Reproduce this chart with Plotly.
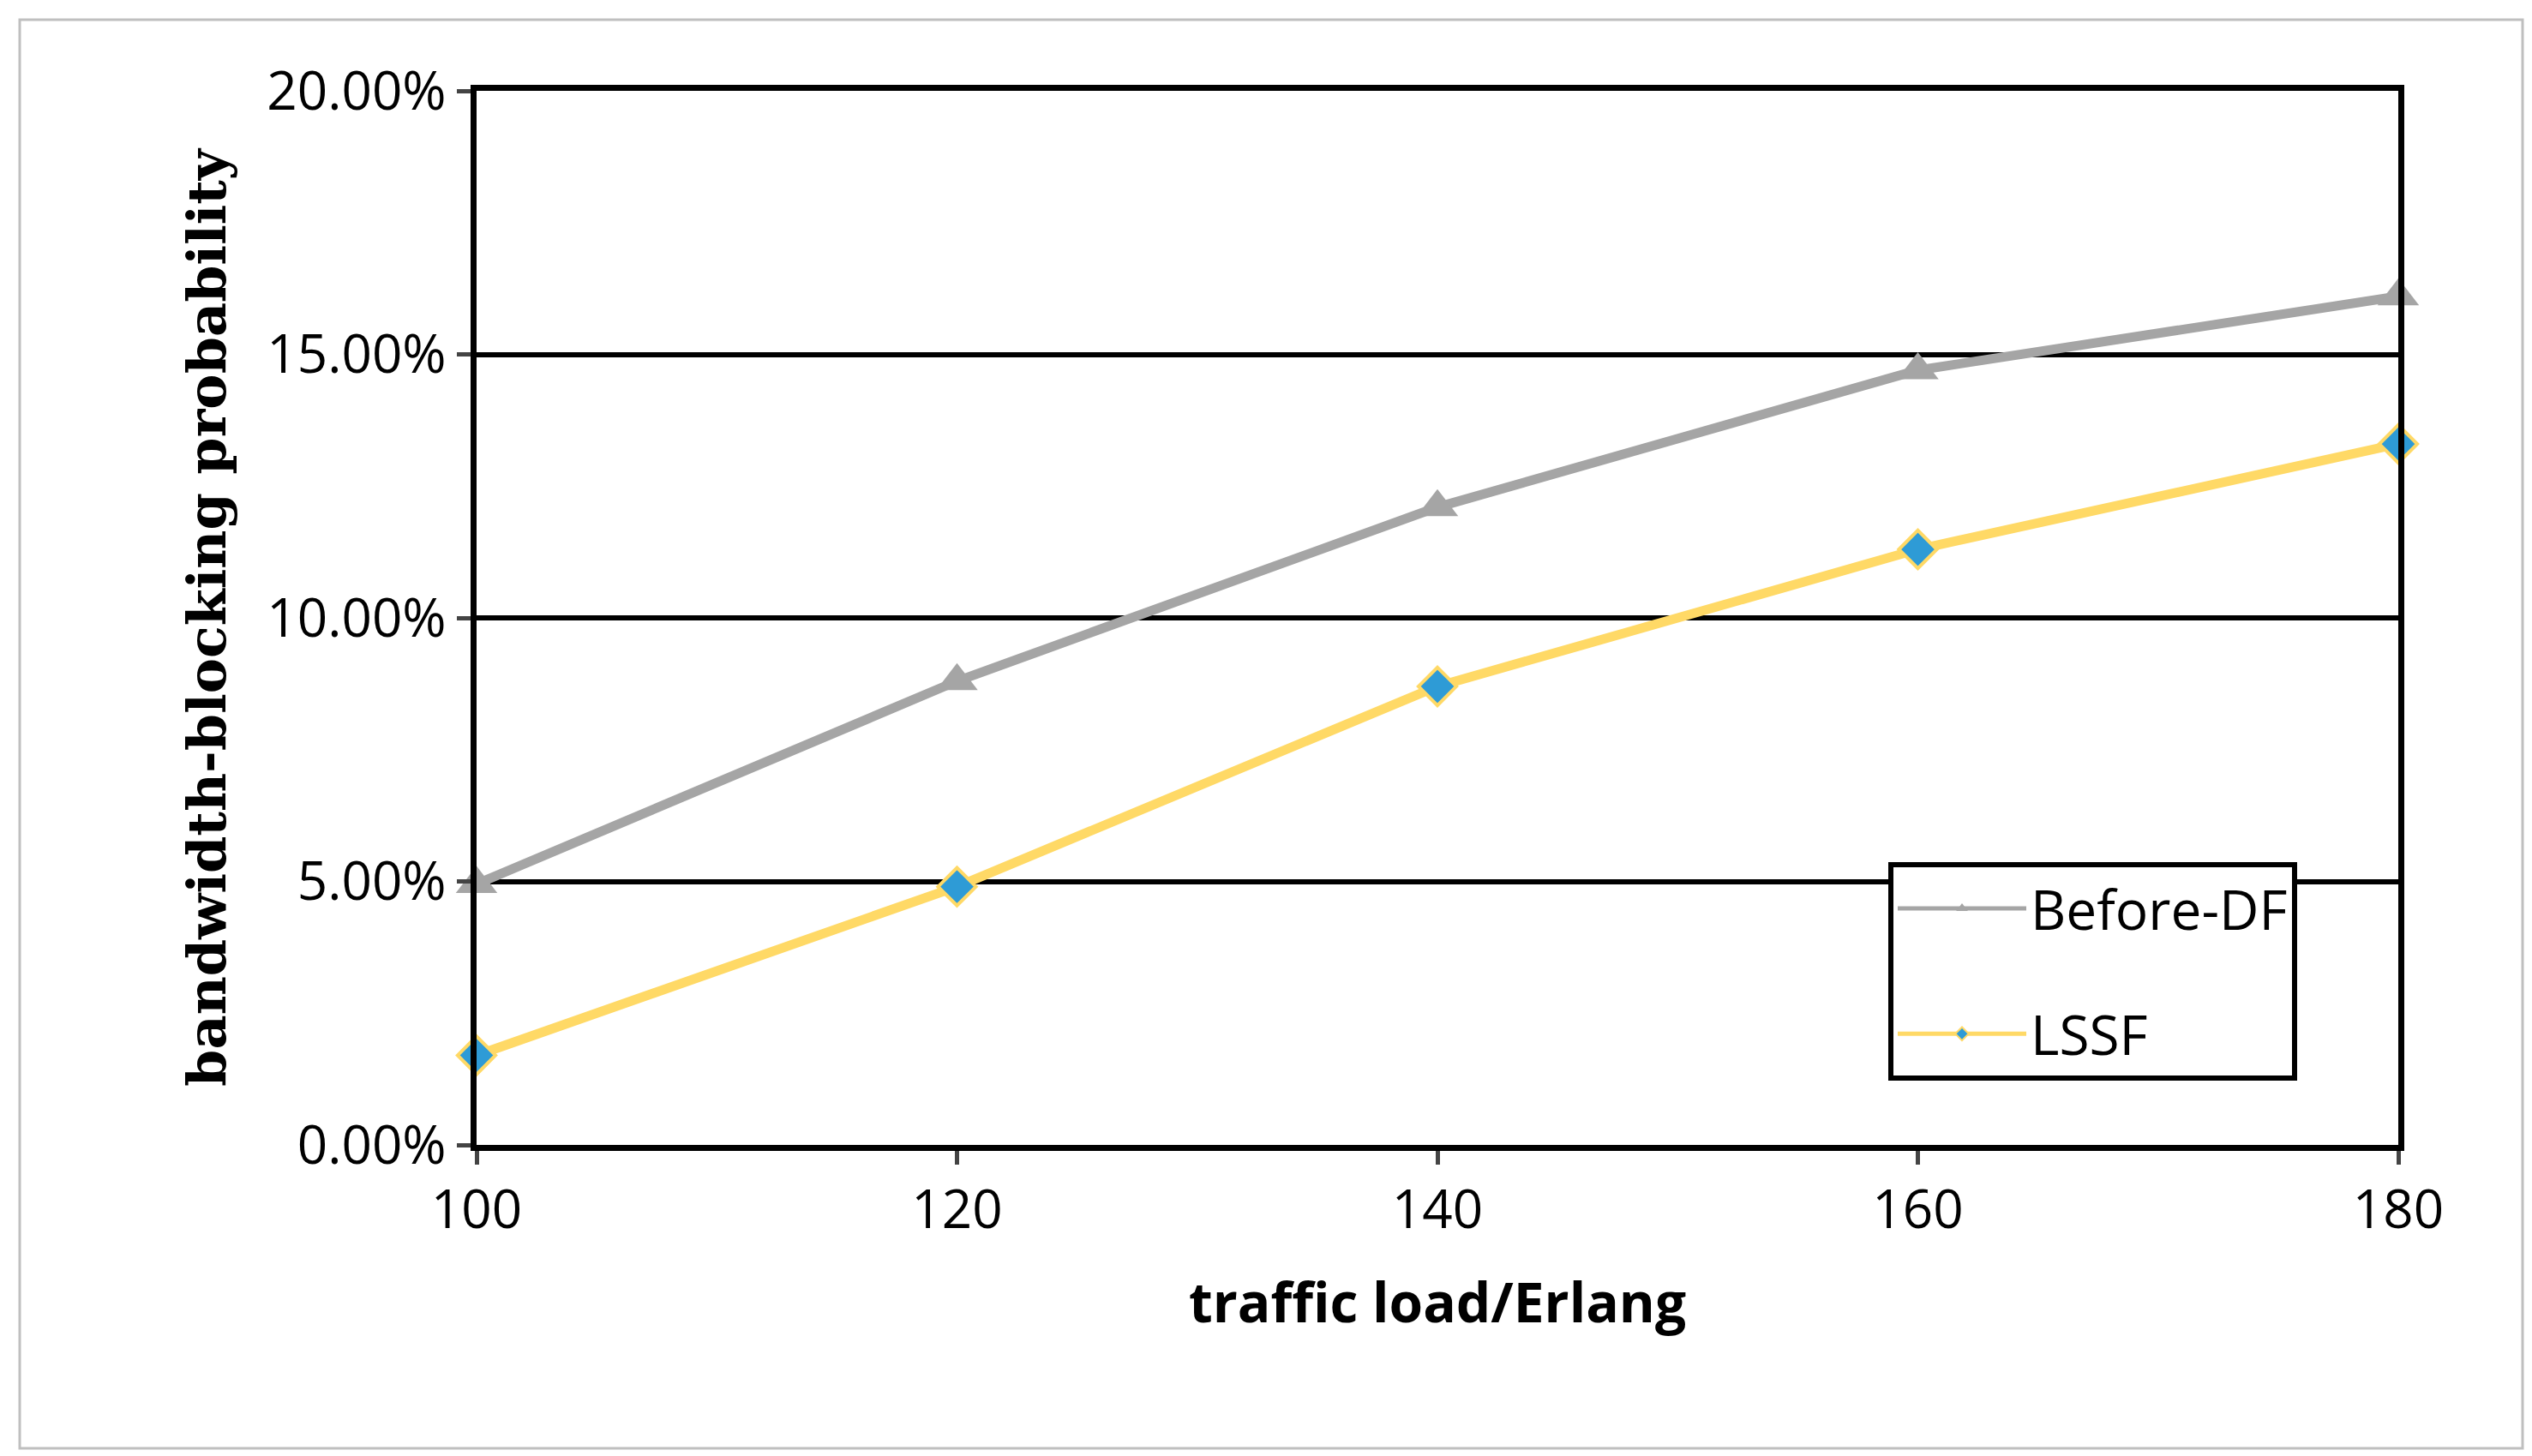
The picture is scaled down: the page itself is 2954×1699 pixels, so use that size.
import plotly.graph_objects as go

loads = [100, 120, 140, 160, 180]
before_df = [0.0495, 0.088, 0.121, 0.147, 0.161]
lssf = [0.017, 0.049, 0.087, 0.113, 0.133]
y_ticks = [0, 0.05, 0.10, 0.15, 0.20]
y_tick_labels = ["0.00%", "5.00%", "10.00%", "15.00%", "20.00%"]
x_ticks = [100, 120, 140, 160, 180]

W, H = 2954, 1699
fig = go.Figure()
fig.add_trace(go.Scatter(x=loads, y=before_df, name="Before-DF", mode="lines+markers",
    legendgroup="a", cliponaxis=False,
    line=dict(color="#A5A5A5", width=11),
    marker=dict(symbol="triangle-up", size=42, color="#A5A5A5")))
fig.add_trace(go.Scatter(x=loads, y=lssf, name="LSSF", mode="lines+markers",
    legendgroup="b", cliponaxis=False,
    line=dict(color="#FFD966", width=11),
    marker=dict(symbol="diamond", size=34, color="#2E9BD6", line=dict(color="#FFD966", width=4))))

L, R, T, B = 548, 2790, 98, 1328
fig.update_layout(
    width=W, height=H, autosize=False,
    margin=dict(l=L, r=W - R, t=T, b=H - B),
    paper_bgcolor="white", plot_bgcolor="white",
    font=dict(family="Open Sans", color="black"),
    xaxis=dict(range=[100, 180], tickvals=x_ticks, showgrid=False, zeroline=False,
               showline=True, linecolor="black", linewidth=7, mirror=True,
               ticks="outside", ticklen=16, tickwidth=5, tickfont=dict(size=62),
               title=dict(text="<b>traffic load/Erlang</b>", font=dict(size=64), standoff=50)),
    yaxis=dict(range=[0, 0.20], tickvals=y_ticks, ticktext=y_tick_labels,
               showgrid=True, gridcolor="black", gridwidth=6, zeroline=False,
               showline=True, linecolor="black", linewidth=7, mirror=True,
               ticks="outside", ticklen=16, tickwidth=5, tickfont=dict(size=62),
               title=dict(text="<b>bandwidth-blocking probability</b>",
                          font=dict(size=62, family="DejaVu Serif"), standoff=30)),
    legend=dict(x=(2195 - L) / (R - L), y=(B - 998) / (B - T), xanchor="left", yanchor="top",
                bgcolor="white", bordercolor="black", borderwidth=6,
                font=dict(size=64), itemwidth=150, itemsizing="constant",
                tracegroupgap=60),
    shapes=[dict(type="rect", xref="paper", yref="paper",
                 x0=(15 - L) / (R - L), x1=(2935 - L) / (R - L),
                 y0=(B - 1682) / (B - T), y1=(B - 15) / (B - T),
                 line=dict(color="#BFBFBF", width=3), layer="below")],
)
fig.write_html("out.html")
